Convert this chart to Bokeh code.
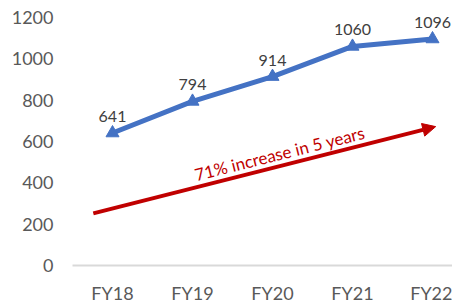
from bokeh.plotting import figure
from bokeh.models import Range1d, ColumnDataSource, Arrow, NormalHead, FixedTicker, Label
from bokeh.core.properties import value
from bokeh.embed import file_html
from bokeh.resources import INLINE

categories = ["FY18", "FY19", "FY20", "FY21", "FY22"]
values = [641, 794, 914, 1060, 1096]
y_ticks = [0, 200, 400, 600, 800, 1000, 1200]
arrow_x = [-0.24, 4.04]
arrow_y = [252, 672]
note_text = "71% increase in 5 years"
note_x = 2.09
note_y = 542

FONT = "Lato"
GRAY = "#595959"
BLUE = "#4472C4"
RED = "#C00000"

xs = list(range(len(categories)))
src = ColumnDataSource(dict(x=xs, y=values, label=[str(v) for v in values]))

p = figure(frame_width=380, frame_height=256, output_backend="svg", toolbar_location=None,
           x_range=Range1d(-0.5, 4.25), y_range=Range1d(0, 1238.7),
           min_border_top=9, min_border_left=72, min_border_right=0, min_border_bottom=31)
p.outline_line_color = None
p.grid.visible = False
p.background_fill_color = "white"

p.line("x", "y", source=src, line_color=BLUE, line_width=5)
p.scatter("x", "y", source=src, marker="triangle", size=13, fill_color=BLUE, line_color=BLUE)
p.text("x", "y", text="label", source=src, text_align="center", text_baseline="bottom",
       y_offset=-11, text_font=value(FONT), text_font_size="16px", text_color="#404040")

p.add_layout(Arrow(end=NormalHead(size=13, fill_color=RED, line_color=RED),
                   x_start=arrow_x[0], y_start=arrow_y[0], x_end=arrow_x[1], y_end=arrow_y[1],
                   line_color=RED, line_width=4))
p.add_layout(Label(x=note_x, y=note_y, text=note_text, angle=0.247, text_align="center",
                   text_baseline="middle", text_color=RED, text_font=FONT, text_font_size="17px"))

p.xaxis.ticker = FixedTicker(ticks=xs)
p.xaxis.major_label_overrides = {i: c for i, c in enumerate(categories)}
p.xaxis.axis_line_color = "#d9d9d9"
p.xaxis.axis_line_width = 2
p.xaxis.major_tick_line_color = None
p.xaxis.minor_tick_line_color = None
p.xaxis.major_tick_out = 0
p.xaxis.major_label_standoff = 16
p.xaxis.major_label_text_font = FONT
p.xaxis.major_label_text_font_size = "18px"
p.xaxis.major_label_text_color = GRAY

p.yaxis.ticker = FixedTicker(ticks=y_ticks)
p.yaxis.axis_line_color = None
p.yaxis.major_tick_line_color = None
p.yaxis.minor_tick_line_color = None
p.yaxis.major_tick_out = 0
p.yaxis.major_label_standoff = 19
p.yaxis.major_label_text_font = FONT
p.yaxis.major_label_text_font_size = "18px"
p.yaxis.major_label_text_color = GRAY

open("out.html", "w").write(file_html(p, INLINE))
